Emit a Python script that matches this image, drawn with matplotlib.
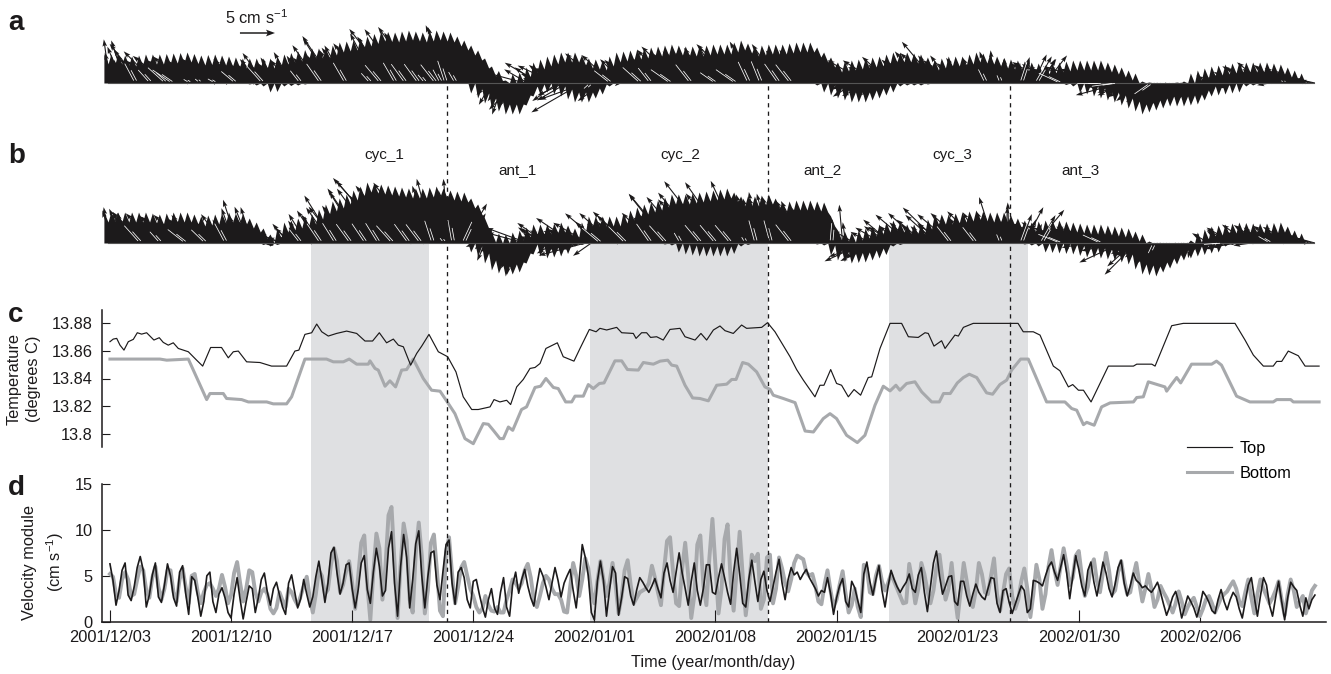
#!/usr/bin/env python3
"""Current sticks, temperature and velocity module at two depths."""

import matplotlib

matplotlib.use("Agg")
import matplotlib.pyplot as plt
import numpy as np

W, H = 1331, 674
INK = "#1c1a1b"
GREY = "#a7a9ac"
BAND = "#dfe0e2"

tick_days = [0, 7, 14, 21, 28, 35, 42, 49, 56, 63]
tick_labels = [
    "2001/12/03", "2001/12/10", "2001/12/17", "2001/12/24", "2002/01/01",
    "2002/01/08", "2002/01/15", "2002/01/23", "2002/01/30", "2002/02/06",
]
band_starts = [11.62, 27.75, 45.03]
band_ends = [18.44, 38.03, 53.06]
dash_days = [19.51, 38.03, 52.0]

event_names = ["cyc_1", "ant_1", "cyc_2", "ant_2", "cyc_3", "ant_3"]
event_days = [15.84, 23.58, 32.95, 41.16, 48.67, 56.07]

# temperature, top sensor
temp_top_t = [
    0.00, .19, .39, .58, .81, 1.06, 1.35, 1.58, 1.83, 2.12, 2.54, 2.85, 3.08, 3.37, 3.66, 3.95,
    4.53, 5.01, 5.36, 5.82, 6.45, 6.84, 7.13, 7.42, 7.90, 8.67, 9.34, 10.21, 10.69, 10.92, 11.27,
    11.66, 11.95, 12.24, 12.62, 13.10, 13.68, 14.26, 14.74, 15.18, 15.57, 15.99, 16.38, 16.67,
    16.96, 17.38, 17.73, 18.02, 18.44, 18.98, 19.52, 20.00, 20.42, 20.91, 21.29, 21.97, 22.20,
    22.54, 22.93, 23.16, 23.51, 23.89, 24.28, 24.57, 24.86, 25.20, 25.86, 26.20, 26.82, 27.17,
    27.71, 28.10, 28.32, 28.71, 29.29, 29.58, 30.25, 30.41, 30.73, 31.02, 31.25, 31.60, 31.98,
    32.37, 32.95, 33.24, 33.82, 34.16, 34.49, 34.88, 35.26, 35.55, 36.03, 36.51, 36.80, 37.67,
    38.01, 38.44, 39.31, 39.69, 40.08, 40.75, 41.04, 41.27, 41.66, 42.00, 42.29, 42.68, 43.01,
    43.39, 43.83, 44.03, 44.51, 45.09, 45.76, 46.15, 46.72, 47.11, 47.30, 47.63, 48.07, 48.27,
    48.84, 49.04, 49.33, 49.90, 52.49, 52.79, 53.37, 53.76, 54.53, 54.91, 55.40, 55.65, 55.98,
    56.27, 56.71, 57.71, 59.16, 59.35, 60.22, 60.41, 61.37, 62.04, 65.03, 65.61, 66.09, 66.67,
    67.24, 67.44, 67.73, 68.11, 68.69, 69.08, 69.89,
]
temp_top = [
    13.8667, 13.8686, 13.8691, 13.8642, 13.8606, 13.8667, 13.8684, 13.8732, 13.8722, 13.8732,
    13.8679, 13.8696, 13.8662, 13.8642, 13.8659, 13.8618, 13.8594, 13.8533, 13.8490, 13.8625,
    13.8625, 13.8550, 13.8594, 13.8599, 13.8521, 13.8516, 13.8490, 13.8490, 13.8599, 13.8606,
    13.8720, 13.8732, 13.8795, 13.8739, 13.8708, 13.8727, 13.8744, 13.8727, 13.8672, 13.8672,
    13.8732, 13.8659, 13.8686, 13.8642, 13.8630, 13.8497, 13.8582, 13.8635, 13.8720, 13.8594,
    13.8558, 13.8448, 13.8267, 13.8175, 13.8175, 13.8194, 13.8247, 13.8230, 13.8242, 13.8211,
    13.8339, 13.8393, 13.8473, 13.8480, 13.8509, 13.8618, 13.8659, 13.8558, 13.8526, 13.8618,
    13.8756, 13.8739, 13.8764, 13.8752, 13.8771, 13.8732, 13.8727, 13.8691, 13.8732, 13.8732,
    13.8698, 13.8703, 13.8679, 13.8756, 13.8764, 13.8703, 13.8679, 13.8727, 13.8679, 13.8752,
    13.8781, 13.8747, 13.8727, 13.8788, 13.8764, 13.8771, 13.8805, 13.8739, 13.8558, 13.8465,
    13.8388, 13.8267, 13.8351, 13.8351, 13.8465, 13.8364, 13.8351, 13.8267, 13.8320, 13.8279,
    13.8407, 13.8412, 13.8618, 13.8800, 13.8800, 13.8703, 13.8698, 13.8732, 13.8727, 13.8635,
    13.8674, 13.8618, 13.8715, 13.8708, 13.8771, 13.8800, 13.8800, 13.8739, 13.8739, 13.8715,
    13.8490, 13.8456, 13.8339, 13.8356, 13.8315, 13.8315, 13.8230, 13.8490, 13.8490, 13.8504,
    13.8504, 13.8490, 13.8783, 13.8800, 13.8800, 13.8679, 13.8570, 13.8490, 13.8490, 13.8524,
    13.8524, 13.8599, 13.8565, 13.8490, 13.8490,
]

# temperature, bottom sensor
temp_bot_t = [
    0.00, 2.89, 3.28, 4.53, 5.59, 5.78, 6.55, 6.74, 7.61, 8.00, 9.06, 9.44, 10.21, 10.50, 11.27,
    12.52, 12.91, 13.49, 13.83, 14.26, 14.93, 15.03, 15.32, 15.51, 15.90, 16.18, 16.51, 16.86,
    17.15, 17.53, 18.11, 18.59, 19.08, 19.56, 19.94, 20.52, 21.00, 21.58, 21.87, 22.16, 22.54,
    22.74, 23.03, 23.28, 23.79, 24.08, 24.57, 24.89, 25.20, 25.63, 25.91, 26.34, 26.69, 26.88,
    27.36, 27.65, 27.94, 28.29, 28.56, 29.19, 29.58, 29.91, 30.54, 30.83, 31.41, 31.80, 32.24,
    32.47, 32.76, 33.24, 33.68, 34.10, 34.59, 35.07, 35.65, 35.94, 36.19, 36.57, 36.90, 37.38,
    37.86, 38.15, 38.34, 38.92, 39.60, 40.18, 40.66, 41.23, 41.62, 42.00, 42.58, 43.20, 43.64,
    44.22, 44.70, 45.09, 45.43, 45.66, 46.05, 46.53, 46.92, 47.50, 47.94, 48.18, 48.57, 48.98,
    49.33, 49.67, 50.10, 50.67, 51.02, 51.44, 51.83, 52.12, 52.64, 53.08, 54.14, 55.20, 55.59,
    55.88, 56.27, 56.46, 56.89, 57.32, 57.81, 59.16, 59.35, 59.73, 60.02, 60.98, 61.08, 61.37,
    61.66, 61.89, 62.52, 63.68, 63.96, 64.25, 65.12, 65.89, 67.24, 67.44, 68.25, 68.40, 69.89,
]
temp_bot = [
    13.8541, 13.8541, 13.8533, 13.8541, 13.8247, 13.8291, 13.8291, 13.8255, 13.8247, 13.8230,
    13.8230, 13.8216, 13.8216, 13.8267, 13.8541, 13.8541, 13.8521, 13.8521, 13.8541, 13.8504,
    13.8504, 13.8528, 13.8473, 13.8461, 13.8344, 13.8383, 13.8339, 13.8461, 13.8465, 13.8541,
    13.8400, 13.8315, 13.8308, 13.8218, 13.8145, 13.7964, 13.7927, 13.8073, 13.8068, 13.8024,
    13.7964, 13.7964, 13.8048, 13.8024, 13.8175, 13.8194, 13.8335, 13.8344, 13.8400, 13.8335,
    13.8327, 13.8230, 13.8230, 13.8272, 13.8272, 13.8356, 13.8327, 13.8364, 13.8368, 13.8528,
    13.8528, 13.8465, 13.8461, 13.8516, 13.8504, 13.8526, 13.8533, 13.8497, 13.8490, 13.8351,
    13.8259, 13.8255, 13.8238, 13.8351, 13.8359, 13.8393, 13.8393, 13.8516, 13.8504, 13.8448,
    13.8339, 13.8322, 13.8279, 13.8255, 13.8225, 13.8019, 13.8012, 13.8109, 13.8145, 13.8109,
    13.7988, 13.7935, 13.7988, 13.8206, 13.8344, 13.8310, 13.8351, 13.8315, 13.8364, 13.8376,
    13.8303, 13.8230, 13.8230, 13.8291, 13.8291, 13.8368, 13.8407, 13.8431, 13.8407, 13.8296,
    13.8286, 13.8356, 13.8388, 13.8461, 13.8541, 13.8541, 13.8230, 13.8230, 13.8182, 13.8170,
    13.8065, 13.8082, 13.8061, 13.8194, 13.8223, 13.8230, 13.8262, 13.8267, 13.8376, 13.8339,
    13.8308, 13.8359, 13.8407, 13.8368, 13.8504, 13.8504, 13.8526, 13.8497, 13.8272, 13.8230,
    13.8230, 13.8247, 13.8247, 13.8230, 13.8230,
]

# velocity module, one sample every 0.175 day
sample_step = 0.175
speed_top = [
    6.3, 4.5, 1.8, 3.4, 5.6, 6.4, 2.9, 2.3, 3.8, 5.9,
    7.1, 5.6, 1.6, 2.9, 5.1, 6.4, 2.7, 2.1, 4.0, 6.3,
    5.0, 2.6, 1.7, 5.4, 6.1, 3.1, 0.8, 4.9, 4.5, 2.7,
    0.6, 2.2, 5.0, 5.4, 2.2, 1.0, 3.0, 3.7, 2.6, 1.0,
    0.4, 3.0, 4.8, 2.4, 0.3, 2.2, 3.9, 3.6, 1.0, 2.6,
    4.6, 5.3, 3.2, 1.8, 3.6, 4.3, 2.9, 1.6, 0.8, 4.2,
    5.1, 3.3, 1.5, 2.5, 4.6, 3.0, 1.6, 2.7, 4.9, 6.6,
    4.5, 2.1, 4.2, 7.5, 8.1, 5.3, 3.0, 4.2, 6.2, 6.4,
    3.6, 1.5, 3.5, 6.4, 7.2, 3.5, 2.0, 5.4, 8.0, 6.0,
    2.8, 3.4, 8.0, 9.8, 4.2, 0.6, 6.0, 9.5, 7.0, 1.5,
    4.6, 8.5, 9.9, 5.0, 1.5, 4.9, 7.5, 7.7, 4.0, 2.4,
    5.5, 8.4, 8.9, 4.2, 1.9, 5.4, 5.9, 4.8, 2.4, 1.5,
    4.4, 4.6, 3.0, 1.6, 0.5, 2.4, 3.6, 1.5, 0.8, 3.2,
    4.8, 1.6, 0.6, 4.0, 5.4, 3.1, 4.6, 5.7, 3.9, 2.6,
    1.7, 3.9, 5.8, 5.0, 3.8, 2.4, 4.2, 5.9, 4.5, 2.7,
    4.2, 5.0, 5.7, 3.4, 1.5, 4.6, 8.4, 7.0, 5.0, 1.0,
    0.2, 4.4, 6.6, 4.5, 0.6, 3.4, 6.0, 5.3, 0.7, 2.6,
    4.9, 4.7, 2.8, 1.8, 3.5, 4.8, 4.3, 3.7, 3.2, 3.9,
    4.7, 3.6, 2.6, 5.3, 6.4, 4.5, 3.2, 5.4, 7.5, 5.3,
    3.6, 1.8, 4.4, 6.4, 3.4, 1.8, 3.6, 6.2, 6.2, 3.2,
    3.0, 4.8, 6.3, 4.8, 3.2, 1.9, 5.4, 8.0, 5.2, 2.0,
    1.6, 4.6, 6.7, 4.4, 2.2, 4.6, 5.5, 3.4, 2.2, 3.8,
    5.4, 6.8, 4.2, 2.4, 4.6, 5.9, 5.1, 5.4, 4.6, 5.2,
    5.7, 4.8, 4.2, 3.6, 2.8, 3.4, 3.2, 4.8, 3.1, 0.8,
    2.6, 3.9, 4.7, 2.2, 1.6, 4.4, 3.7, 2.3, 1.0, 5.2,
    6.5, 4.4, 2.9, 4.6, 6.1, 3.4, 1.6, 3.8, 5.6, 4.6,
    3.8, 3.2, 3.8, 4.3, 5.2, 3.6, 3.2, 5.1, 5.9, 3.2,
    1.1, 3.8, 6.4, 7.7, 5.0, 3.0, 3.9, 4.9, 5.0, 2.2,
    1.8, 4.4, 4.4, 2.8, 1.7, 3.0, 4.1, 3.2, 2.7, 2.4,
    3.6, 4.8, 4.7, 2.0, 1.0, 3.4, 3.6, 2.1, 0.9, 1.9,
    2.9, 3.9, 3.4, 1.0, 1.4, 4.5, 4.4, 4.2, 3.9, 5.0,
    6.0, 6.5, 5.4, 4.5, 5.9, 7.3, 5.3, 2.5, 4.9, 7.2,
    5.7, 3.9, 2.8, 5.6, 6.5, 4.3, 2.8, 4.6, 6.5, 5.3,
    3.6, 2.7, 4.1, 5.9, 6.7, 4.2, 2.8, 3.9, 5.3, 4.5,
    4.2, 3.7, 3.9, 3.5, 3.2, 3.7, 4.3, 3.2, 1.9, 0.7,
    1.6, 2.7, 3.3, 2.1, 0.4, 1.6, 2.8, 2.2, 1.5, 0.5,
    1.7, 3.3, 2.8, 2.1, 1.2, 0.9, 2.4, 3.5, 2.2, 1.3,
    2.4, 3.2, 2.7, 1.4, 0.4, 2.2, 4.0, 4.8, 2.6, 0.6,
    2.8, 4.8, 4.0, 1.8, 0.6, 2.6, 4.4, 2.2, 0.2, 2.6,
    4.3, 3.8, 3.4, 1.8, 0.6, 2.6, 1.4, 2.4, 2.9,
]
speed_bot = [
    5.2, 4.9, 3.0, 2.6, 4.6, 5.4, 4.6, 2.8, 3.0, 4.6,
    6.0, 5.6, 3.4, 2.6, 4.8, 6.0, 3.8, 2.4, 3.6, 5.6,
    5.6, 3.2, 2.2, 4.6, 5.8, 3.8, 2.0, 5.0, 5.2, 3.2,
    2.0, 3.2, 4.0, 4.2, 3.6, 2.8, 3.6, 5.1, 3.8, 2.0,
    2.9, 5.3, 6.5, 4.2, 2.2, 3.6, 5.6, 5.4, 3.2, 2.2,
    3.2, 3.6, 3.0, 1.4, 0.9, 1.5, 3.2, 2.3, 1.6, 3.6,
    3.2, 2.4, 1.8, 2.8, 3.9, 4.9, 2.6, 1.0, 3.0, 5.6,
    5.0, 3.0, 3.5, 6.2, 8.0, 6.6, 3.2, 4.0, 5.5, 6.6,
    4.2, 1.4, 5.0, 8.6, 9.4, 4.0, 0.2, 5.4, 9.6, 8.0,
    2.4, 6.0, 11.6, 12.5, 6.4, 0.4, 6.2, 10.7, 8.8, 2.4,
    1.0, 7.4, 10.8, 7.2, 0.9, 3.4, 8.6, 9.5, 5.6, 1.2,
    0.6, 7.6, 9.2, 5.2, 2.0, 3.8, 5.9, 6.5, 5.0, 3.6,
    2.8, 1.6, 1.0, 1.4, 2.8, 1.8, 1.2, 1.1, 1.6, 1.0,
    1.0, 2.4, 3.4, 4.6, 4.2, 3.6, 4.2, 5.6, 6.3, 4.8,
    2.4, 1.6, 2.8, 4.2, 5.0, 4.6, 3.6, 3.0, 3.0, 2.4,
    1.1, 1.0, 3.8, 6.4, 5.0, 2.8, 4.6, 6.9, 5.8, 3.2,
    2.0, 4.4, 6.6, 4.6, 2.8, 4.2, 6.4, 4.0, 0.9, 2.8,
    5.6, 6.7, 4.0, 2.0, 2.6, 3.2, 3.4, 3.6, 4.2, 6.1,
    4.8, 3.2, 1.8, 5.6, 8.8, 9.2, 5.4, 2.0, 1.7, 5.8,
    8.6, 5.0, 0.4, 2.8, 8.4, 9.4, 4.0, 1.8, 7.0, 11.2,
    6.0, 0.9, 3.6, 9.0, 10.6, 4.6, 1.2, 5.6, 9.8, 5.0,
    0.7, 3.6, 7.3, 6.6, 7.4, 1.4, 2.4, 7.0, 7.3, 2.0,
    3.6, 7.0, 5.8, 4.2, 3.3, 4.6, 6.4, 7.2, 7.0, 6.8,
    5.4, 5.0, 5.2, 3.9, 2.2, 1.9, 4.0, 5.6, 3.4, 1.6,
    2.4, 4.0, 5.5, 3.0, 1.0, 1.8, 3.6, 1.6, 0.5, 6.2,
    5.8, 3.2, 3.0, 5.0, 6.1, 4.4, 3.4, 4.2, 5.2, 4.4,
    3.6, 2.8, 2.0, 2.1, 6.3, 4.4, 2.0, 3.6, 6.4, 5.2,
    3.4, 2.0, 3.4, 6.0, 7.3, 4.6, 2.4, 3.6, 6.4, 3.0,
    0.4, 3.4, 6.4, 4.4, 2.2, 1.6, 3.4, 6.4, 5.2, 3.2,
    3.0, 5.0, 6.9, 3.0, 1.2, 3.2, 5.2, 5.8, 2.8, 1.4,
    2.4, 4.4, 5.8, 3.6, 0.5, 3.0, 6.2, 4.6, 1.4, 3.0,
    6.0, 7.8, 5.6, 4.0, 6.0, 8.0, 6.2, 4.0, 4.8, 7.2,
    7.7, 5.0, 2.8, 3.8, 6.0, 6.8, 4.4, 3.2, 5.4, 7.5,
    5.6, 3.0, 3.4, 5.4, 6.6, 4.6, 3.0, 3.2, 5.0, 6.4,
    4.2, 2.2, 3.6, 5.2, 3.6, 1.6, 2.4, 3.9, 3.2, 2.6,
    1.8, 1.0, 2.0, 3.3, 2.2, 0.8, 1.6, 2.2, 2.6, 1.6,
    0.6, 1.4, 2.4, 2.8, 2.0, 1.0, 1.8, 2.6, 3.0, 3.3,
    3.9, 4.4, 3.6, 2.2, 1.7, 3.2, 4.6, 2.6, 0.9, 3.0,
    4.6, 3.6, 2.8, 2.0, 2.6, 3.4, 4.4, 2.4, 0.7, 3.0,
    4.6, 3.4, 1.6, 2.2, 2.8, 0.9, 2.0, 3.4, 3.9,
]

# current direction in degrees from east
dir_top = [
    98, 105, 110, 102, 112, 108, 115, 120, 118, 125,
    128, 135, 140, 132, 140, 135, 145, 150, 138, 142,
    146, 152, 140, 135, 148, 142, 150, 138, 144, 152,
    140, 148, 136, 140, 155, 150, 145, 138, 150, 156,
    146, 140, 135, 148, 150, 142, 136, 130, 144, 150,
    132, 126, 134, 140, 128, 122, 136, 130, 124, 128,
    120, 132, 138, 128, 122, 130, 136, 126, 132, 125,
    118, 128, 134, 122, 124, 118, 130, 125, 120, 128,
    135, 122, 116, 124, 128, 120, 132, 126, 118, 130,
    122, 135, 124, 128, 120, 130, 118, 126, 120, 132,
    110, 122, 126, 118, 130, 112, 124, 128, 105, 118,
    100, 108, 112, 95, 120, 106, 98, 118, 130, 125,
    135, 145, 120, 160, 190, 225, 240, 215, 250, 235,
    250, 230, 255, 240, 225, 245, 210, 165, 150, 220,
    155, 145, 150, 210, 160, 148, 142, 155, 215, 150,
    205, 210, 158, 150, 200, 152, 210, 200, 148, 222,
    205, 150, 140, 215, 160, 142, 138, 150, 220, 145,
    136, 135, 148, 128, 145, 138, 132, 150, 128, 140,
    132, 120, 118, 140, 132, 145, 138, 128, 136, 142,
    130, 142, 128, 135, 148, 125, 140, 136, 126, 132,
    145, 130, 122, 138, 128, 130, 145, 136, 130, 120,
    128, 115, 118, 140, 105, 112, 132, 120, 128, 115,
    138, 125, 120, 110, 135, 128, 140, 118, 132, 130,
    135, 125, 140, 128, 145, 132, 138, 150, 158, 200,
    150, 148, 155, 205, 195, 150, 212, 200, 145, 158,
    150, 205, 195, 150, 148, 210, 200, 142, 138, 145,
    136, 148, 140, 132, 140, 128, 150, 138, 130, 142,
    135, 145, 138, 130, 128, 140, 132, 138, 128, 136,
    130, 140, 125, 132, 126, 120, 118, 125, 112, 116,
    106, 110, 96, 100, 112, 88, 94, 90, 102, 80,
    85, 72, 78, 70, 85, 65, 60, 55, 62, 52,
    150, 155, 150, 160, 155, 165, 158, 170, 150, 162,
    165, 170, 155, 175, 160, 168, 150, 180, 162, 172,
    158, 170, 188, 165, 195, 205, 190, 212, 195, 200,
    218, 205, 225, 235, 215, 240, 222, 250, 270, 235,
    255, 285, 228, 245, 210, 230, 240, 205, 220, 200,
    215, 198, 190, 150, 205, 185, 160, 200, 145, 210,
    155, 150, 195, 146, 180, 155, 145, 150, 140, 152,
    145, 142, 150, 190, 148, 152, 144, 155, 148, 160,
    150, 155, 150, 162, 158, 165, 160, 165, 168,
]
dir_bot = [
    100, 108, 104, 112, 106, 115, 110, 118, 122, 128,
    132, 138, 130, 136, 142, 135, 145, 132, 140, 136,
    138, 145, 132, 140, 136, 142, 148, 135, 130, 140,
    144, 136, 130, 138, 128, 122, 135, 126, 118, 124,
    115, 110, 108, 112, 118, 110, 112, 108, 125, 140,
    145, 150, 165, 170, 185, 190, 155, 160, 135, 130,
    138, 132, 145, 128, 125, 122, 134, 140, 128, 124,
    126, 132, 118, 125, 122, 128, 134, 118, 122, 126,
    120, 135, 118, 122, 124, 130, 140, 118, 126, 122,
    135, 120, 130, 132, 128, 140, 122, 130, 126, 118,
    130, 125, 127, 118, 135, 112, 108, 105, 100, 125,
    130, 98, 95, 100, 120, 70, 65, 60, 58, 55,
    135, 200, 235, 220, 245, 230, 250, 240, 225, 235,
    248, 235, 255, 260, 240, 255, 225, 165, 160, 210,
    155, 200, 150, 148, 145, 155, 150, 210, 152, 205,
    195, 210, 148, 146, 160, 200, 190, 195, 150, 215,
    142, 136, 140, 145, 138, 140, 138, 130, 150, 142,
    135, 138, 145, 130, 140, 132, 128, 136, 125, 135,
    130, 142, 124, 132, 128, 130, 126, 138, 120, 132,
    130, 140, 128, 122, 132, 130, 135, 120, 128, 128,
    130, 145, 125, 128, 125, 130, 138, 118, 115, 128,
    120, 125, 108, 105, 100, 110, 118, 112, 105, 125,
    118, 110, 112, 125, 118, 128, 122, 125, 120, 118,
    112, 110, 115, 105, 92, 88, 90, 95, 85, 80,
    150, 160, 95, 98, 165, 205, 150, 198, 208, 205,
    200, 150, 210, 205, 205, 150, 198, 145, 140, 148,
    136, 150, 142, 130, 140, 138, 145, 132, 138, 140,
    135, 148, 130, 138, 136, 142, 132, 128, 140, 135,
    140, 130, 138, 125, 132, 120, 128, 135, 122, 118,
    110, 115, 108, 100, 112, 95, 88, 92, 80, 75,
    84, 70, 62, 70, 55, 66, 50, 60, 45, 150,
    155, 160, 148, 165, 158, 160, 170, 155, 165, 160,
    162, 158, 168, 190, 160, 165, 175, 155, 168, 162,
    172, 185, 165, 192, 205, 170, 200, 210, 222, 225,
    205, 230, 215, 200, 235, 245, 225, 215, 250, 240,
    255, 270, 220, 245, 235, 255, 230, 260, 225, 240,
    250, 210, 195, 150, 190, 205, 160, 185, 145, 195,
    150, 150, 190, 145, 175, 150, 145, 188, 140, 150,
    146, 142, 155, 150, 145, 150, 146, 148, 152, 155,
    150, 155, 158, 160, 155, 165, 160, 162, 165,
]

# solid ink of the overlapping sticks, height above / below the baseline,
# one reading every 0.8 day
mass_step = 0.8
mass_start = -0.35
mass_up_a = [
    24, 24, 22, 24, 24, 25, 26, 23, 24, 22,
    20, 20, 20, 24, 27, 30, 30, 36, 38, 42,
    47, 46, 48, 46, 48, 46, 38, 28, 12, 3,
    6, 16, 22, 26, 26, 20, 18, 26, 28, 30,
    32, 34, 32, 32, 34, 34, 38, 32, 34, 34,
    36, 36, 26, 16, 18, 20, 22, 26, 26, 24,
    18, 22, 22, 26, 24, 20, 18, 16, 14, 16,
    18, 18, 18, 14, 8, 2, 0, 0, 2, 8,
    12, 14, 16, 16, 16, 14, 8, 2,
]
mass_down_a = [
    0, 0, 0, 0, 0, 0, 0, 0, 0, 0,
    0, 2, 4, 3, 2, 0, 0, 0, 0, 0,
    0, 0, 0, 0, 0, 0, 0, 10, 20, 26,
    26, 8, 4, 8, 14, 14, 6, 0, 0, 0,
    0, 0, 0, 0, 0, 0, 0, 0, 0, 0,
    0, 0, 4, 10, 14, 14, 10, 4, 2, 2,
    0, 0, 0, 0, 0, 0, 0, 0, 0, 0,
    3, 6, 10, 14, 20, 26, 22, 18, 18, 16,
    8, 6, 4, 2, 0, 0, 0, 0,
]
mass_up_b = [
    26, 26, 26, 26, 24, 26, 26, 22, 24, 26,
    24, 16, 4, 16, 20, 24, 34, 40, 48, 56,
    54, 52, 50, 50, 52, 48, 46, 34, 6, 4,
    8, 14, 14, 16, 10, 22, 22, 22, 28, 34,
    38, 44, 44, 46, 48, 50, 42, 42, 44, 36,
    38, 38, 36, 8, 6, 10, 14, 18, 14, 14,
    24, 24, 26, 28, 26, 26, 20, 16, 18, 18,
    16, 14, 14, 12, 10, 4, 0, 0, 0, 6,
    12, 14, 16, 15, 15, 16, 8, 2,
]
mass_down_b = [
    0, 0, 0, 0, 0, 0, 0, 0, 0, 0,
    0, 0, 3, 0, 0, 0, 0, 0, 0, 0,
    0, 0, 0, 0, 0, 0, 0, 8, 22, 28,
    24, 6, 10, 8, 3, 0, 0, 0, 0, 0,
    0, 2, 6, 8, 8, 8, 3, 0, 0, 0,
    0, 0, 2, 12, 15, 14, 10, 3, 0, 0,
    0, 0, 0, 0, 0, 0, 0, 2, 4, 5,
    6, 9, 10, 12, 16, 26, 28, 20, 12, 8,
    5, 3, 0, 0, 0, 0, 0, 0,
]

# days where a white gap opens between neighbouring sticks
gap_days_a = [
    1.45, 2.31, 3.18, 3.58, 4.62, 5.2, 6.07, 7.23, 8.79, 10.98, 12.14, 13.58, 15.03, 15.61, 16.47,
    17.05, 17.8, 18.2, 18.79, 19.08, 19.36, 19.94, 27.75, 28.9, 30.64, 31.21, 32.37, 33.53, 34.97,
    36.13, 36.88, 37.57, 38.61, 39.31, 50.58, 51.45, 52.6, 53.47, 54.91, 57.23, 58.09, 60.12, 67.92,
]
gap_days_b = [
    1.73, 2.89, 4.34, 5.49, 6.65, 10.98, 12.14, 13.0, 13.87, 14.74, 15.49, 16.3, 17.23, 17.92,
    18.61, 19.31, 19.77, 20.35, 28.32, 29.77, 31.21, 32.08, 32.95, 34.1, 34.97, 35.84, 36.71,
    37.28, 38.15, 39.31, 41.62, 48.55, 50.0, 51.45, 52.6, 53.76, 54.91, 57.23, 60.29, 64.16, 67.05,
]

plt.rcParams["font.family"] = ["Liberation Sans", "DejaVu Sans"]
plt.rcParams["mathtext.default"] = "regular"

fig = plt.figure(figsize=(W / 100, H / 100), dpi=100)
XLIM = (-0.46, 70.29)
PX_PER_DAY = 17.3
PX_PER_CM_S = 7.0
TOOTH = 5  # half height of the arrow-tip teeth on the ink edge


def toothed_edge(mass):
    """Saw edge along a mass reading: tips at readings and midway, notches between."""
    mass = np.array(mass, dtype=float)
    t = mass_start + np.arange(len(mass)) * mass_step
    mid = (mass[:-1] + mass[1:]) / 2
    xs, ys = [], []
    for k in range(len(mass) - 1):
        xs += [t[k], t[k] + mass_step * 0.3, t[k] + mass_step * 0.5, t[k] + mass_step * 0.8]
        ys += [
            mass[k] + TOOTH if mass[k] > 3 else mass[k],
            max(mass[k] - TOOTH, 0),
            mid[k] + TOOTH if mid[k] > 3 else mid[k],
            max(mid[k] - TOOTH, 0),
        ]
    return xs, ys


def px_axes(top, bottom):
    """Axes spanning the plot width between two pixel rows of the figure."""
    ax = fig.add_axes([102 / W, 1 - bottom / H, (1326 - 102) / W, (bottom - top) / H])
    ax.set_xlim(*XLIM)
    ax.patch.set_alpha(0)
    return ax


def stick_panel(ax, t, speed, direction, mass_up, mass_down, gap_days):
    xs, ys = toothed_edge(mass_up)
    ax.fill_between(xs, ys, 0, color=INK, lw=0, zorder=1)
    xs, ys = toothed_edge(mass_down)
    ax.fill_between(xs, -np.array(ys), 0, color=INK, lw=0, zorder=1)
    angle = np.radians(direction)
    ax.quiver(
        t, np.zeros_like(t), speed * np.cos(angle), speed * np.sin(angle),
        angles="uv", scale_units="dots", scale=1 / PX_PER_CM_S, units="dots",
        width=1.1, headwidth=4.2, headlength=6.5, headaxislength=5.5,
        minlength=0, pivot="tail", color=INK, linewidth=0, clip_on=False, zorder=2,
    )
    for day in gap_days:
        i = int(round(day / sample_step))
        length = min(20, 0.7 * speed[i] * PX_PER_CM_S)
        dx, dy = np.cos(angle[i]), np.sin(angle[i])
        # a longer slit and a shorter one beside it
        for offset, part in ((0.0, 1.0), (0.16, 0.6)):
            ax.plot(
                [day + offset + 3 * dx / PX_PER_DAY, day + offset + (3 + part * length) * dx / PX_PER_DAY],
                [3 * dy, (3 + part * length) * dy],
                color="white", lw=0.55, zorder=3, solid_capstyle="round",
            )
    ax.axhline(0, xmin=0.005, xmax=0.99, color="#555555", lw=0.8, zorder=2)
    ax.set_ylim(-42, 63)
    ax.axis("off")


t_samples = np.arange(len(speed_top)) * sample_step

# backdrop: bands and event lines run through the lower panels
ax_bg = px_axes(84, 621.7)
ax_bg.axis("off")
band_top = (621.7 - 243) / (621.7 - 84)
for start, end in zip(band_starts, band_ends):
    ax_bg.axvspan(start, end, ymin=0, ymax=band_top, color=BAND, lw=0)

ax_a = px_axes(20, 125)
stick_panel(ax_a, t_samples, np.array(speed_top), np.array(dir_top), mass_up_a, mass_down_a, gap_days_a)
ax_a.quiver(
    [(240 - 110) / PX_PER_DAY], [50], [5], [0],
    angles="uv", scale_units="dots", scale=1 / PX_PER_CM_S, units="dots",
    width=1.5, headwidth=4.5, headlength=6, headaxislength=5,
    color=INK, clip_on=False,
)

ax_b = px_axes(180, 285)
stick_panel(ax_b, t_samples, np.array(speed_bot), np.array(dir_bot), mass_up_b, mass_down_b, gap_days_b)

ax_c = px_axes(310, 447)
ax_c.plot(temp_bot_t, temp_bot, color=GREY, lw=2.2, solid_joinstyle="round", label="Bottom")
ax_c.plot(temp_top_t, temp_top, color=INK, lw=0.85, label="Top")
ax_c.set_ylim(13.7903, 13.8897)
ax_c.set_yticks([13.8, 13.82, 13.84, 13.86, 13.88])
ax_c.set_yticklabels(["13.8", "13.82", "13.84", "13.86", "13.88"])
ax_c.set_xticks([])
for side in ("top", "right", "bottom"):
    ax_c.spines[side].set_visible(False)

handles, labels = ax_c.get_legend_handles_labels()
fig.legend(
    handles[::-1], labels[::-1], loc="upper left", bbox_to_anchor=(1187 / W, 1 - 441 / H),
    frameon=False, fontsize=11.8, handlelength=2.75, handletextpad=0.45, labelspacing=0.58,
    borderpad=0, borderaxespad=0,
)

ax_d = px_axes(484, 621.7)
ax_d.plot(t_samples, speed_bot, color=GREY, lw=2.8, solid_joinstyle="round")
ax_d.plot(t_samples, speed_top, color=INK, lw=1.2)
ax_d.set_ylim(0, 15)
ax_d.set_yticks([0, 5, 10, 15])
ax_d.set_xticks(tick_days)
ax_d.set_xticklabels(tick_labels)
for side in ("top", "right"):
    ax_d.spines[side].set_visible(False)
ax_d.tick_params(axis="x", direction="in", length=8.6, width=0.8, pad=6, labelsize=11.8, colors=INK)

for ax in (ax_c, ax_d):
    ax.spines["left"].set_linewidth(1.1)
    ax.spines["left"].set_color(INK)
    ax.tick_params(axis="y", direction="in", length=5.8, width=0.8, pad=6.5, labelsize=11.8, colors=INK)
ax_d.spines["bottom"].set_linewidth(1.1)
ax_d.spines["bottom"].set_color(INK)

# dashed event lines on top of everything
ax_top = px_axes(84, 621.7)
ax_top.axis("off")
for day in dash_days:
    ax_top.axvline(day, color=INK, lw=0.95, dashes=(3.2, 3.2))


def fig_text(x, y, s, **kw):
    kw.setdefault("color", INK)
    fig.text(x / W, 1 - y / H, s, **kw)


for name, day, y in zip(event_names, event_days, [155, 170] * 3):
    fig_text(110 + day * PX_PER_DAY, y, name, ha="center", va="center", fontsize=11)

fig_text(256, 24, "5 cm s$^{-1}$", ha="center", va="baseline", fontsize=11.8)
for letter, y in zip("abcd", [30, 163, 322, 495]):
    fig_text(8, y, letter, ha="left", va="baseline", fontsize=20, fontweight="bold")

fig_text(24, 379, "Temperature\n(degrees C)", rotation=90, ha="center", va="center",
         multialignment="center", fontsize=11.8, linespacing=1.4)
fig_text(44, 562, "Velocity module\n(cm s$^{-1}$)", rotation=90, ha="center", va="center",
         multialignment="center", fontsize=11.8, linespacing=1.4)
fig_text(713, 663, "Time (year/month/day)", ha="center", va="center", fontsize=11.8)

fig.savefig("out.png", dpi=100)
